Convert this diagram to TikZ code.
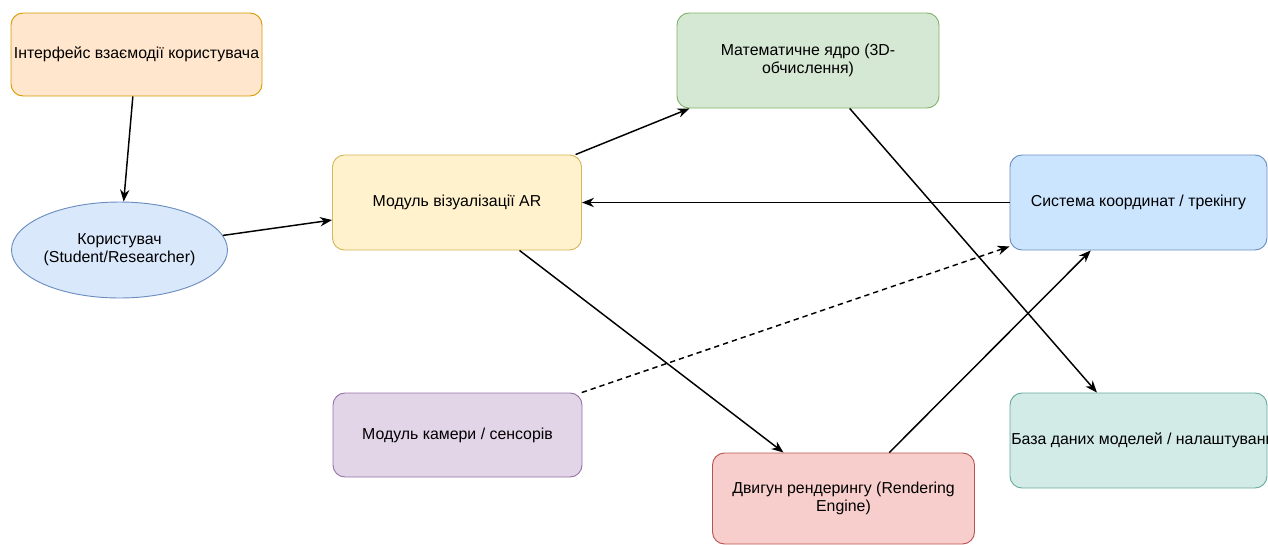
\documentclass[tikz,border=0pt]{standalone}
\usepackage{fontspec}
\setmainfont{Liberation Sans}
\usetikzlibrary{arrows.meta,shapes.geometric}
\definecolor{orfill}{HTML}{FFE6CC}\definecolor{ordraw}{HTML}{D79B00}
\definecolor{blfill}{HTML}{DAE8FC}\definecolor{bldraw}{HTML}{6C8EBF}
\definecolor{yefill}{HTML}{FFF2CC}\definecolor{yedraw}{HTML}{D6B656}
\definecolor{grfill}{HTML}{D5E8D4}\definecolor{grdraw}{HTML}{82B366}
\definecolor{pufill}{HTML}{E1D5E7}\definecolor{pudraw}{HTML}{9673A6}
\definecolor{refill}{HTML}{F8CECC}\definecolor{redraw}{HTML}{B85450}
\definecolor{tefill}{HTML}{D2EBE6}\definecolor{tedraw}{HTML}{67AB9F}
\definecolor{cofill}{HTML}{CCE5FF}\definecolor{codraw}{HTML}{6C8EBF}
\tikzset{
  box/.style={rectangle, rounded corners=9pt, line width=0.7pt, align=center, font=\fontsize{11.9}{13.5}\selectfont, inner sep=2pt},
  oval/.style={ellipse, line width=0.7pt, align=center, font=\fontsize{11.9}{13.5}\selectfont, inner sep=0pt},
  conn/.style={line width=1.1pt, -{Stealth[length=9pt,width=7pt]}},
}
\begin{document}
\begin{tikzpicture}[x=0.75pt,y=-0.75pt]
\useasboundingbox (0,0) rectangle (1268,544);
\begin{scope}
\clip (0,0) rectangle (1268,544);
\node[box, fill=orfill, draw=ordraw, minimum width=188.25pt, minimum height=62.25pt] (ui) at (136.5,54.5) {Інтерфейс взаємодії користувача};
\node[oval, fill=blfill, draw=bldraw, minimum width=162pt, minimum height=72pt] (user) at (119.5,250) {Користувач\\(Student/Researcher)};
\node[box, fill=yefill, draw=yedraw, minimum width=186.75pt, minimum height=71.25pt] (ar) at (457,202.5) {Модуль візуалізації AR};
\node[box, fill=grfill, draw=grdraw, minimum width=196.5pt, minimum height=71.25pt] (math) at (808,60.5) {Математичне ядро (3D-\\обчислення)};
\node[box, fill=cofill, draw=codraw, minimum width=192.75pt, minimum height=71.25pt] (coord) at (1138.5,202.5) {Система координат / трекінгу};
\node[box, fill=tefill, draw=tedraw, minimum width=192.75pt, minimum height=71.25pt] (db) at (1138.5,440.5) {};
\node[font=\fontsize{11.9}{13.5}\selectfont, anchor=west, inner sep=0pt] (dbtext) at (1011,440.5) {База даних моделей / налаштувань};
\node[box, fill=pufill, draw=pudraw, minimum width=186.75pt, minimum height=63pt] (cam) at (457.5,435) {Модуль камери / сенсорів};
\node[box, fill=refill, draw=redraw, minimum width=196.5pt, minimum height=68.25pt] (render) at (843.5,498.5) {Двигун рендерингу (Rendering\\Engine)};
\end{scope}
\draw[conn] (ui) -- (user);
\draw[conn] (user) -- (ar);
\draw[conn] (ar) -- (math);
\draw[conn] (coord) -- (ar);
\draw[conn] (ar) -- (render);
\draw[conn] (math) -- (db);
\draw[conn] (render) -- (coord);
\draw[conn, dashed, dash pattern=on 4pt off 3pt] (cam) -- (coord);
\end{tikzpicture}
\end{document}
